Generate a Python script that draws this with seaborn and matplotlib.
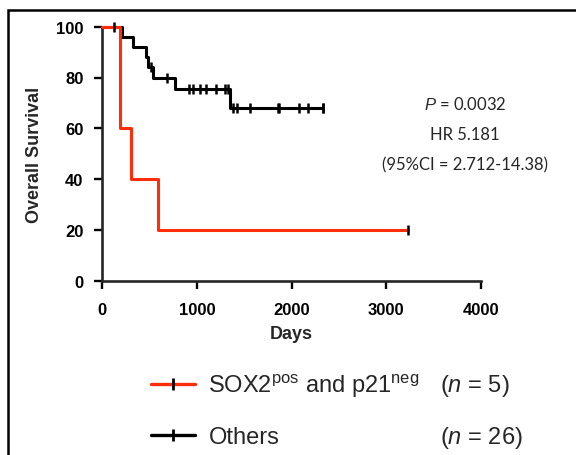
import numpy as np
import pandas as pd
import matplotlib
matplotlib.use("Agg")
import matplotlib.pyplot as plt
from matplotlib.lines import Line2D
from matplotlib.patches import Rectangle
import seaborn as sns

# ---- data (days, 1 = death, 0 = censored) ----
red_days = [187, 187, 300, 592, 3235]
red_event = [1, 1, 1, 1, 0]

black_days = [127, 205, 321, 462, 485, 510, 540, 680, 768,
              916, 959, 1033, 1096, 1202, 1297, 1329, 1350,
              1380, 1420, 1561, 1860, 1870, 2082, 2178, 2330, 2330]
black_event = [0, 1, 1, 1, 1, 0, 1, 0, 1,
               0, 0, 0, 0, 0, 0, 0, 1,
               0, 0, 0, 0, 0, 0, 0, 0, 0]

x_ticks = [0, 1000, 2000, 3000, 4000]
y_ticks = [0, 20, 40, 60, 80, 100]
red_label = r"SOX2$^{\mathrm{pos}}$ and p21$^{\mathrm{neg}}$"
black_label = "Others"
n_labels = [r"($\mathit{n}$ = 5)", r"($\mathit{n}$ = 26)"]
stats_lines = [r"$\mathit{P}$ = 0.0032", "HR 5.181", "(95%CI = 2.712-14.38)"]

RED = "#ff2d0a"


def kaplan_meier(days, events):
    df = pd.DataFrame({"t": days, "e": events}).sort_values("t")
    n = len(df)
    s = 100.0
    xs, ys = [0.0], [100.0]
    cens_x, cens_y = [], []
    for t, grp in df.groupby("t", sort=True):
        d = grp["e"].sum()
        c = len(grp) - d
        if d > 0:
            s = s * (1 - d / n)
            xs.append(t)
            ys.append(s)
        if c > 0:
            cens_x += [t] * c
            cens_y += [s] * c
        n -= len(grp)
    xs.append(df["t"].max())
    ys.append(s)
    return xs, ys, cens_x, cens_y


sns.set_style("ticks")
plt.rcParams["font.family"] = ["Liberation Sans", "DejaVu Sans"]
plt.rcParams["mathtext.fontset"] = "custom"
plt.rcParams["mathtext.rm"] = "Liberation Sans"
plt.rcParams["mathtext.it"] = "Liberation Sans:italic"

fig = plt.figure(figsize=(5.76, 4.56), dpi=100)
ax = fig.add_axes([102.3 / 576, 1 - 281.7 / 456, 378.4 / 576, 254 / 456])

for days, ev, col in [(black_days, black_event, "black"), (red_days, red_event, RED)]:
    xs, ys, cx, cy = kaplan_meier(days, ev)
    sns.lineplot(x=xs, y=ys, ax=ax, color=col, linewidth=2.2,
                 drawstyle="steps-post", estimator=None, sort=False,
                 clip_on=False, zorder=3)
    ax.plot(cx, cy, linestyle="none", marker="|", markersize=7,
            markeredgewidth=1.8, color="black", clip_on=False, zorder=4)

ax.set_xlim(0, 4000)
ax.set_ylim(0, 100)
ax.set_xticks(x_ticks)
ax.set_yticks(y_ticks)
sns.despine(ax=ax)
for sp in ["left", "bottom"]:
    ax.spines[sp].set_linewidth(1.9)
ax.tick_params(axis="both", direction="out", length=5.5, width=1.7,
               labelsize=12, color="black", labelcolor="black")
ax.tick_params(axis="y", pad=8)
ax.tick_params(axis="x", pad=10)
for lab in ax.get_xticklabels() + ax.get_yticklabels():
    lab.set_fontweight("bold")

ax.set_xlabel("Days", fontsize=13, fontweight="bold")
ax.set_ylabel("Overall Survival", fontsize=13, fontweight="bold")
ax.yaxis.set_label_coords(-(102.3 - 43) / 378.4, 0.5)
ax.xaxis.set_label_coords(0.5, -(326 - 281.7) / 254)

# stats annotation
for i, line in enumerate(stats_lines):
    fig.text(465 / 576, 1 - (105 + 30 * i) / 456, line, ha="center", va="center",
             fontsize=12, family=["Lato", "DejaVu Sans"])

# legend
handles = [
    Line2D([], [], color=RED, lw=2.4, marker="|", markersize=9,
           markeredgewidth=2, markeredgecolor="black"),
    Line2D([], [], color="black", lw=2.4, marker="|", markersize=9,
           markeredgewidth=2, markeredgecolor="black"),
]
leg = fig.legend(handles, [red_label, black_label], loc="center left",
                 bbox_to_anchor=(134 / 576, 1 - 411 / 456), frameon=False,
                 fontsize=17, handlelength=1.9, handletextpad=0.55,
                 labelspacing=1.15, numpoints=1, borderpad=0.2)

fig.canvas.draw()
inv = fig.transFigure.inverted()
for txt, nlab in zip(leg.get_texts(), n_labels):
    bb = txt.get_window_extent()
    yc = inv.transform((0, (bb.y0 + bb.y1) / 2))[1]
    fig.text(440 / 576, yc, nlab, ha="left", va="center", fontsize=17)

# outer frame
fig.add_artist(Rectangle((8 / 576, -0.1), 1.2, 1 - 11 / 456 + 0.1,
                         transform=fig.transFigure, fill=False,
                         edgecolor="black", linewidth=1.8))

fig.savefig("out.png", dpi=100)
